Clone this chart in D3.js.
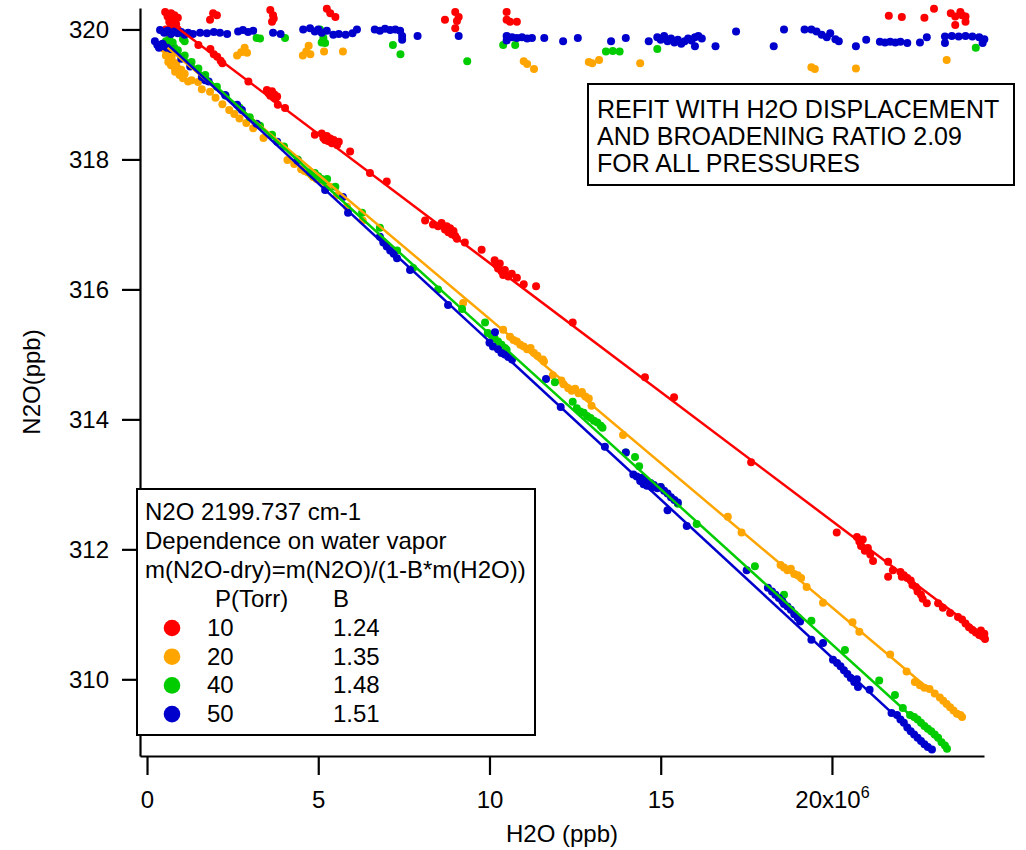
<!DOCTYPE html>
<html>
<head>
<meta charset="utf-8">
<script src="https://cdn.jsdelivr.net/npm/d3@7"></script>
<style>
  html, body { margin: 0; padding: 0; background: #fff; }
  svg text { font-family: "Liberation Sans", Arial, sans-serif; fill: #000; }
</style>
</head>
<body>
<svg id="chart" width="1026" height="850"></svg>
<script>
// ---------------- DATA (H2O in units of 1e6 ppb, N2O in ppb) ----------------
const seriesNames = ["10", "20", "40", "50"];           // P(Torr)
const seriesB = ["1.24", "1.35", "1.48", "1.51"];         // B coefficient
const seriesColors = ["#ff0000", "#ffa500", "#00cc00", "#0000cc"];

const xTicks = [0, 5, 10, 15, 20];
const yTicks = [310, 312, 314, 316, 318, 320];

// measured (wet) N2O vs H2O
const redRaw = [[0.55,320.00],[0.6,319.95],[0.7,320.05],[0.75,319.98],[0.8,320.08],[0.9,320.0],
 [1.50,319.76],[1.85,319.70],[1.95,319.62],[2.05,319.58],[2.15,319.52],[2.2,319.48],[2.96,319.20],
 [3.5,319.07],[3.55,319.02],[3.6,318.98],[3.65,319.05],[3.7,318.95],[3.72,319.0],[3.75,318.93],[3.8,318.97],[3.82,318.84],[4.03,318.79],
 [4.9,318.38],[5.1,318.40],[5.15,318.33],[5.2,318.30],[5.25,318.36],[5.3,318.28],[5.35,318.32],[5.4,318.25],[5.45,318.30],[5.55,318.22],[5.6,318.27],[5.93,318.12],[6.51,317.79],[7.0,317.66],
 [8.12,317.06],[8.35,317.0],[8.5,316.97],[8.6,317.02],[8.7,316.92],[8.75,316.97],[8.8,316.88],[8.85,316.94],[8.9,316.85],[8.95,316.9],[9.0,316.82],[9.05,316.78],[9.28,316.72],[9.77,316.61],
 [10.15,316.45],[10.2,316.38],[10.25,316.32],[10.3,316.4],[10.35,316.28],[10.4,316.22],[10.45,316.3],[10.55,316.2],[10.65,316.24],[10.8,316.18],[11.0,316.08],[11.36,316.05],
 [12.43,315.49],[14.54,314.65],[15.39,314.34],[17.64,313.34],[20.14,312.26],
 [20.73,312.19],[20.8,312.12],[20.85,312.05],[20.9,312.15],[20.96,311.98],[21.05,312.02],[21.12,311.92],[21.2,311.82],[21.64,311.81],[21.64,311.58],[21.78,311.68],[22.04,311.58],
 [22.0,311.65],[22.1,311.6],[22.2,311.56],[22.3,311.52],[22.35,311.45],[22.45,311.42],[22.5,311.35],[22.6,311.3],[22.65,311.24],[22.77,311.17],[23.1,311.17],[23.24,311.1],[23.45,311.02],[23.68,310.96],
 [23.8,310.92],[23.9,310.86],[24.0,310.8],[24.1,310.76],[24.2,310.72],[24.3,310.68],[24.4,310.66],[24.47,310.62],[24.35,310.75],[24.45,310.7]];

const orangeRaw = [[0.5,319.7],[0.55,319.6],[0.6,319.65],[0.62,319.5],[0.65,319.55],[0.7,319.45],[0.72,319.58],[0.75,319.5],[0.8,319.42],[0.82,319.35],[0.85,319.48],[0.9,319.4],[0.95,319.3],[1.0,319.38],[1.05,319.25],[1.1,319.32],[1.2,319.2],[1.3,319.22],[1.49,319.19],[1.6,319.08],[1.84,319.04],[2.0,318.95],[2.2,318.85],[2.4,318.76],[2.55,318.7],[2.7,318.63],[2.9,318.56],[3.1,318.48],[3.4,318.33],
 [4.1,317.99],[4.3,317.93],[4.5,317.85],[4.6,317.82],[4.7,317.8],[4.8,317.76],[4.85,317.73],[4.95,317.7],[5.1,317.68],[5.2,317.64],[5.35,317.58],[5.55,317.45],[5.84,317.27],[6.3,317.06],
 [9.23,315.79],[10.4,315.38],[10.6,315.27],[10.7,315.22],[10.8,315.2],[10.9,315.15],[11.0,315.12],[11.1,315.08],[11.2,315.1],[11.3,315.02],[11.4,314.98],[11.56,314.92],[11.59,314.89],[11.85,314.68],[12.1,314.6],[12.16,314.54],[12.3,314.48],[12.4,314.44],[12.5,314.47],[12.6,314.4],[12.7,314.42],[12.8,314.35],[12.9,314.32],[12.98,314.21],[13.9,313.76],[16.96,312.5],
 [17.36,312.26],[18.5,311.76],[18.6,311.72],[18.7,311.68],[18.8,311.7],[18.9,311.62],[19.0,311.6],[19.1,311.56],[19.26,311.42],[19.74,311.18],[20.6,310.88],[20.8,310.73],[21.7,310.38],[22.18,310.12],[22.42,309.96],[22.57,309.91],[22.7,309.87],[22.85,309.85],[23.0,309.78],[23.15,309.72],[23.25,309.67],[23.35,309.62],[23.45,309.57],[23.55,309.52],[23.65,309.47],[23.75,309.45],[23.8,309.42]];

const greenRaw = [[0.55,319.82],[0.6,319.78],[0.65,319.85],[0.7,319.76],[0.75,319.8],[0.8,319.72],[0.9,319.68],[1.1,319.6],[1.3,319.5],[1.5,319.4],[1.7,319.3],[2.04,319.12],[2.3,318.98],[2.7,318.8],[3.0,318.65],[3.3,318.52],[3.65,318.38],[4.0,318.2],[4.4,318.0],
 [4.76,317.8],[4.85,317.76],[4.9,317.79],[5.0,317.74],[5.1,317.7],[5.2,317.68],[5.26,317.7],[5.5,317.58],[6.28,317.18],[6.8,316.95],[7.3,316.6],[7.77,316.33],[8.5,316.0],[9.2,315.7],
 [9.87,315.49],[9.95,315.33],[10.05,315.3],[10.15,315.25],[10.25,315.2],[10.35,315.15],[10.45,315.1],[10.5,315.07],[11.91,314.57],[12.43,314.27],[12.55,314.17],[12.65,314.12],[12.75,314.1],[12.85,314.05],[12.95,314.02],[13.05,313.98],[13.15,313.95],[13.25,313.9],[13.3,313.87],
 [13.98,313.49],[14.25,313.42],[14.37,313.28],[15.0,312.96],[15.5,312.7],[16.05,312.39],[17.75,311.74],[18.6,311.3],[19.4,310.9],[20.38,310.45],[21.38,309.98],[21.84,309.76],[22.07,309.56],[22.28,309.45],[22.4,309.42],[22.5,309.38],[22.6,309.33],[22.7,309.28],[22.8,309.24],[22.9,309.2],[23.0,309.15],[23.1,309.1],[23.2,309.03],[23.3,308.98],[23.36,308.93]];

const blueRaw = [[0.23,319.82],[0.3,319.76],[0.35,319.72],[0.45,319.78],[0.5,319.74],[0.58,319.72],[0.7,319.7],[1.0,319.55],[1.26,319.43],[1.6,319.27],[1.7,319.22],[1.8,319.2],[2.28,318.99],[2.63,318.84],[2.77,318.76],[3.2,318.55],[3.8,318.27],[4.4,317.98],[5.2,317.53],[5.72,317.42],[5.87,317.18],
 [6.8,316.81],[6.9,316.72],[7.0,316.66],[7.1,316.6],[7.2,316.55],[7.3,316.48],[7.68,316.3],[8.79,315.76],[10.0,315.18],[10.1,315.12],[10.16,315.34],[10.25,315.08],[10.35,315.02],[10.45,315.0],[10.55,314.96],[10.66,314.92],[11.65,314.62],[12.08,314.19],[13.37,313.58],[13.98,313.49],
 [14.2,313.15],[14.3,313.12],[14.4,313.05],[14.45,313.1],[14.5,313.0],[14.55,313.06],[14.6,312.98],[14.7,313.02],[14.75,312.95],[14.8,312.99],[14.9,312.94],[15.0,312.96],[15.1,312.9],[15.2,312.86],[15.3,312.8],[15.4,312.76],[15.5,312.72],[15.2,312.6],[15.76,312.36],
 [17.51,311.68],[18.13,311.41],[18.25,311.35],[18.35,311.3],[18.45,311.25],[18.55,311.2],[18.6,311.16],[18.7,311.12],[18.8,311.07],[18.9,311.0],[19.0,310.95],[19.07,310.89],[19.4,310.61],[19.74,310.56],
 [20.03,310.3],[20.15,310.25],[20.25,310.2],[20.35,310.14],[20.45,310.08],[20.55,310.02],[20.65,309.96],[20.76,309.88],[20.73,310.0],[21.1,309.84],[21.74,309.48],[21.9,309.45],[22.0,309.38],[22.1,309.33],[22.2,309.26],[22.3,309.2],[22.4,309.15],[22.5,309.1],[22.6,309.05],[22.7,309.0],[22.8,308.96],[22.92,308.92]];

// dry-corrected N2O vs H2O
const redDry = [[0.53,320.27],[0.6,320.2],[0.65,320.12],[0.7,320.25],[0.75,320.15],[0.8,320.22],[0.85,320.08],[0.9,320.18],[1.84,320.15],[1.93,320.25],[2.04,320.22],[3.6,320.3],[3.65,320.12],[3.68,320.22],[3.7,320.17],[5.25,320.32],[5.35,320.25],[5.5,320.19],
 [8.7,320.15],[9.0,320.27],[9.1,320.19],[9.05,320.13],[9.0,320.02],[10.5,320.27],[10.5,320.15],[10.6,320.12],[10.8,320.12],[21.66,320.21],[22.04,320.19],[22.7,320.18],[22.98,320.32],[23.47,320.25],[23.6,320.2],[23.75,320.27],[23.8,320.22],[23.9,320.2],[23.6,320.07],[23.9,320.12]];

const orangeDry = [[2.63,319.6],[2.75,319.65],[2.85,319.72],[2.92,319.64],[4.55,319.6],[4.65,319.66],[4.72,319.75],[4.77,319.62],[5.17,319.66],[5.72,319.66],[11.0,319.51],[11.1,319.47],[11.3,319.39],[12.9,319.5],[13.0,319.48],[13.2,319.53],[14.4,319.48],[19.4,319.42],[19.5,319.39],[20.7,319.4],[23.35,319.53]];

const greenDry = [[1.05,319.85],[1.1,319.82],[3.2,319.87],[3.3,319.86],[4.03,319.87],[5.05,320.0],[5.1,319.8],[5.2,319.79],[5.15,319.87],[7.18,319.76],[7.4,319.62],[9.35,319.51],[10.4,319.76],[10.75,319.76],[13.4,319.66],[13.6,319.67],[13.8,319.66],[14.9,319.7],[24.2,319.72]];

const blueDry = [[0.38,319.99],[0.5,319.95],[0.6,319.98],[0.7,319.93],[0.8,319.97],[0.9,319.94],[1.0,319.96],[1.1,319.92],[1.2,319.95],[1.34,319.93],[1.55,319.95],[1.75,319.94],[1.95,319.96],[2.13,319.95],[2.34,319.93],[2.66,319.97],[2.8,319.99],[2.95,319.96],[3.1,319.98],[3.68,319.95],[3.9,319.93],[4.56,320.0],[4.76,320.02],[4.9,319.97],[5.0,320.0],[5.1,319.95],[5.25,319.98],[5.44,319.92],[5.6,319.93],[5.8,319.92],[6.0,319.94],[6.13,320.0],[6.65,320.0],[6.8,319.98],[6.95,320.01],[7.1,319.99],[7.25,320.0],[7.39,319.98],[7.45,319.9],[7.45,319.84],[7.9,319.9],[9.1,319.9],
 [10.5,319.9],[10.5,319.83],[10.66,319.88],[10.8,319.87],[10.95,319.88],[11.1,319.86],[11.24,319.87],[11.6,319.87],[12.15,319.82],[12.58,319.87],[13.55,319.82],[13.98,319.87],[14.65,319.82],[14.9,319.88],[15.0,319.84],[15.1,319.9],[15.2,319.82],[15.3,319.86],[15.4,319.8],[15.5,319.84],[15.6,319.78],[15.7,319.82],[15.8,319.86],[15.9,319.83],[16.0,319.88],[16.1,319.9],[16.2,319.86],[16.0,319.74],[16.6,319.74],[17.2,319.97],[18.3,319.74],[18.6,320.0],[19.2,320.0],[19.4,320.0],[19.55,319.97],[19.7,319.92],[19.85,319.88],[19.95,319.94],[20.1,319.85],[20.2,319.82],[20.7,319.74],[21.0,319.84],[21.4,319.81],[21.55,319.8],[21.7,319.81],[21.85,319.8],[22.0,319.81],[22.2,319.79],[22.57,319.8],[22.77,319.88],[23.3,319.79],[23.3,319.89],[23.5,319.9],[23.7,319.89],[23.9,319.9],[24.1,319.89],[24.3,319.88],[24.4,319.79],[24.45,319.85]];

// fitted lines: endpoints [x, y]
const redFit = [[0.7, 320.10], [24.4, 310.69]];
const orangeFit = [[0.6, 319.72], [23.8, 309.42]];
const greenFit = [[0.6, 319.80], [23.35, 308.94]];
const blueFit = [[0.6, 319.77], [22.85, 308.95]];

const legendLines = ["N2O 2199.737 cm-1", "Dependence on water vapor", "m(N2O-dry)=m(N2O)/(1-B*m(H2O))"];
const noteLines = ["REFIT WITH H2O DISPLACEMENT", "AND BROADENING RATIO 2.09", "FOR ALL PRESSURES"];

// ---------------- DRAWING ----------------
const svg = d3.select("#chart");
const L = 140, R = 984, T = 8, B = 756;
const x = d3.scaleLinear().domain([-0.205, 24.44]).range([L, R]);
const y = d3.scaleLinear().domain([308.82, 320.33]).range([B, T]);

// axes
const yAxis = d3.axisLeft(y).tickValues(yTicks).tickSize(18).tickSizeOuter(0).tickPadding(13).tickFormat(d3.format("d"));
const gy = svg.append("g").attr("transform", `translate(${L},0)`).call(yAxis);
const xAxis = d3.axisBottom(x).tickValues(xTicks).tickSize(19).tickSizeOuter(0).tickPadding(16).tickFormat(d => d === 20 ? "20x10" : String(d));
const gx = svg.append("g").attr("transform", `translate(0,${B})`).call(xAxis);
[gx, gy].forEach(g => {
  g.selectAll("path.domain").attr("stroke", "#000").attr("stroke-width", 2.2);
  g.selectAll(".tick line").attr("stroke", "#000").attr("stroke-width", 2.2);
  g.selectAll(".tick text").attr("font-size", 24).attr("font-family", "Liberation Sans, Arial, sans-serif").attr("fill", "#000");
});
gx.selectAll(".tick text").filter(d => d === 20).append("tspan").attr("dy", "-0.6em").attr("font-size", 16).text("6");

// axis titles
svg.append("text").attr("x", (L + R) / 2).attr("y", 842).attr("text-anchor", "middle").attr("font-size", 24).text("H2O (ppb)");
svg.append("text").attr("transform", `translate(40,${(T + B) / 2}) rotate(-90)`).attr("text-anchor", "middle").attr("font-size", 24)
  .attr("font-family", "Liberation Sans Narrow, Liberation Sans, Arial, sans-serif").text("N2O(ppb)");

// points
const plot = svg.append("g");
const allSets = [
  [redRaw, 0], [redDry, 0], [orangeRaw, 1], [orangeDry, 1], [greenRaw, 2], [greenDry, 2], [blueRaw, 3], [blueDry, 3]
];
allSets.forEach(([data, ci]) => {
  plot.append("g").selectAll("circle").data(data).join("circle")
    .attr("cx", d => x(d[0])).attr("cy", d => y(d[1])).attr("r", 4)
    .attr("fill", seriesColors[ci]);
});
// fit lines
const line = d3.line().x(d => x(d[0])).y(d => y(d[1]));
[redFit, orangeFit, greenFit, blueFit].forEach((f, i) => {
  plot.append("path").attr("d", line(f)).attr("fill", "none").attr("stroke", seriesColors[i]).attr("stroke-width", 2.5);
});

// annotation box
const note = svg.append("g");
note.append("rect").attr("x", 588).attr("y", 84).attr("width", 426).attr("height", 101)
  .attr("fill", "#fff").attr("stroke", "#000").attr("stroke-width", 2);
noteLines.forEach((t, i) => note.append("text").attr("x", 597).attr("y", 118 + i * 27).attr("font-size", 25).text(t));

// legend box
const lg = svg.append("g");
lg.append("rect").attr("x", 137).attr("y", 489).attr("width", 398).attr("height", 246)
  .attr("fill", "#fff").attr("stroke", "#000").attr("stroke-width", 2);
legendLines.forEach((t, i) => lg.append("text").attr("x", 145).attr("y", 520 + i * 29).attr("font-size", 24).text(t));
lg.append("text").attr("x", 215).attr("y", 607).attr("font-size", 24).text("P(Torr)");
lg.append("text").attr("x", 333).attr("y", 607).attr("font-size", 24).text("B");
seriesNames.forEach((n, i) => {
  const by = 636 + i * 28.7;
  lg.append("circle").attr("cx", 172).attr("cy", by - 8).attr("r", 8.3).attr("fill", seriesColors[i]);
  lg.append("text").attr("x", 207).attr("y", by).attr("font-size", 24).text(n);
  lg.append("text").attr("x", 333).attr("y", by).attr("font-size", 24).text(seriesB[i]);
});
</script>
</body>
</html>
